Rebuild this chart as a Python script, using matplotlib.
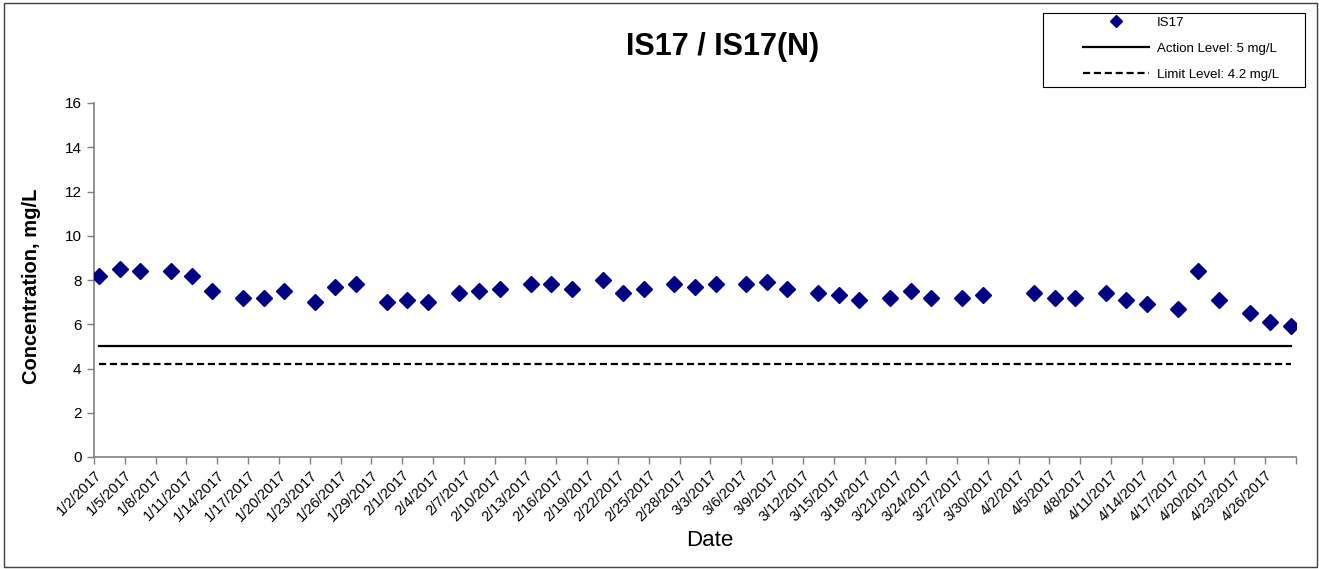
import datetime as dt
import matplotlib
matplotlib.use("Agg")
import matplotlib.pyplot as plt
from matplotlib.lines import Line2D
from matplotlib.patches import Rectangle

plt.rcParams['font.family'] = ['Liberation Sans', 'DejaVu Sans']

# ---- data ----
sample_dates = ["1/2/2017", "1/4/2017", "1/6/2017", "1/9/2017", "1/11/2017", "1/13/2017",
                "1/16/2017", "1/18/2017", "1/20/2017", "1/23/2017", "1/25/2017", "1/27/2017",
                "1/30/2017", "2/1/2017", "2/3/2017", "2/6/2017", "2/8/2017", "2/10/2017",
                "2/13/2017", "2/15/2017", "2/17/2017", "2/20/2017", "2/22/2017", "2/24/2017",
                "2/27/2017", "3/1/2017", "3/3/2017", "3/6/2017", "3/8/2017", "3/10/2017",
                "3/13/2017", "3/15/2017", "3/17/2017", "3/20/2017", "3/22/2017", "3/24/2017",
                "3/27/2017", "3/29/2017", "4/3/2017", "4/5/2017", "4/7/2017", "4/10/2017",
                "4/12/2017", "4/14/2017", "4/17/2017", "4/19/2017", "4/21/2017", "4/24/2017",
                "4/26/2017", "4/28/2017"]
is17 = [8.2, 8.5, 8.4, 8.4, 8.2, 7.5,
        7.2, 7.2, 7.5, 7.0, 7.7, 7.8,
        7.0, 7.1, 7.0, 7.4, 7.5, 7.6,
        7.8, 7.8, 7.6, 8.0, 7.4, 7.6,
        7.8, 7.7, 7.8, 7.8, 7.9, 7.6,
        7.4, 7.3, 7.1, 7.2, 7.5, 7.2,
        7.2, 7.3, 7.4, 7.2, 7.2, 7.4,
        7.1, 6.9, 6.7, 8.4, 7.1, 6.5,
        6.1, 5.9]
action_level = 5.0
limit_level = 4.2
axis_start = "1/2/2017"
axis_end = "4/29/2017"
tick_step_days = 3
y_ticks = [0, 2, 4, 6, 8, 10, 12, 14, 16]

title = "IS17 / IS17(N)"
x_label = "Date"
y_label = "Concentration, mg/L"
series_label = "IS17"
action_label = "Action Level: 5 mg/L"
limit_label = "Limit Level: 4.2 mg/L"


def parse(s):
    return dt.datetime.strptime(s, "%m/%d/%Y")


def fmt(d):
    return f"{d.month}/{d.day}/{d.year}"


# points are centred within their day (Excel date axis)
x = [parse(s) + dt.timedelta(hours=12) for s in sample_dates]
start, end = parse(axis_start), parse(axis_end)
ticks = []
d = start
while d <= end:
    ticks.append(d)
    d += dt.timedelta(days=tick_step_days)
tick_labels = [fmt(t) for t in ticks[:-1]] + [""]

W, H = 1319, 569
fig = plt.figure(figsize=(W / 100, H / 100), dpi=100)
ax = fig.add_axes([94 / W, 1 - 457 / H, (1296 - 94) / W, (457 - 103) / H])

dash = (0, (3.2, 1.7))
ax.plot(x, is17, linestyle="none", marker="D", markersize=8,
        color="#000080", markeredgecolor="#000080", label=series_label, zorder=3)
ax.plot(x, [action_level] * len(x), color="black", lw=1.6, label=action_label)
ax.plot(x, [limit_level] * len(x), color="black", lw=1.6, linestyle=dash,
        label=limit_label)

ax.set_xlim(start, end)
ax.set_ylim(0, 16)
ax.set_yticks(y_ticks)
ax.set_xticks(ticks)
ax.set_xticklabels(tick_labels, rotation=45, ha="right", va="top",
                   rotation_mode="anchor", fontsize=10.5)
ax.tick_params(axis="y", labelsize=11, length=5, width=1, color="#808080", pad=4)
ax.tick_params(axis="x", length=5, width=1, color="#808080", pad=3)

for s in ["top", "right"]:
    ax.spines[s].set_visible(False)
for s in ["left", "bottom"]:
    ax.spines[s].set_color("#808080")
    ax.spines[s].set_linewidth(1.2)

fig.text(723 / W, 1 - 47 / H, title, ha="center", va="center",
         fontsize=22, fontweight="bold")
fig.text(32 / W, 1 - 286 / H, y_label, ha="center", va="center",
         rotation=90, fontsize=14.5, fontweight="bold")
fig.text(710 / W, 1 - 540 / H, x_label, ha="center", va="center", fontsize=16)

# legend with custom frame
fig.patches.append(Rectangle((1043 / W, 1 - 87 / H), (1305 - 1043) / W, (87 - 13) / H,
                             transform=fig.transFigure, fill=False,
                             edgecolor="black", lw=0.8))
handles = [
    Line2D([], [], linestyle="none", marker="D", markersize=6, color="#000080"),
    Line2D([], [], color="black", lw=1.6),
    Line2D([], [], color="black", lw=1.6, linestyle=dash),
]
fig.legend(handles, [series_label, action_label, limit_label],
           loc="upper left", bbox_to_anchor=(1072 / W, 1 - 6 / H),
           frameon=False, fontsize=9.5, handlelength=5.0, handletextpad=0.65,
           labelspacing=1.05, borderpad=0.3)

# outer chart border
fig.patches.append(Rectangle((4 / W, 1 - 567 / H), (1317 - 4) / W, (567 - 3) / H,
                             transform=fig.transFigure, fill=False,
                             edgecolor="#404040", lw=1.0))

fig.savefig("out.png", dpi=100)
